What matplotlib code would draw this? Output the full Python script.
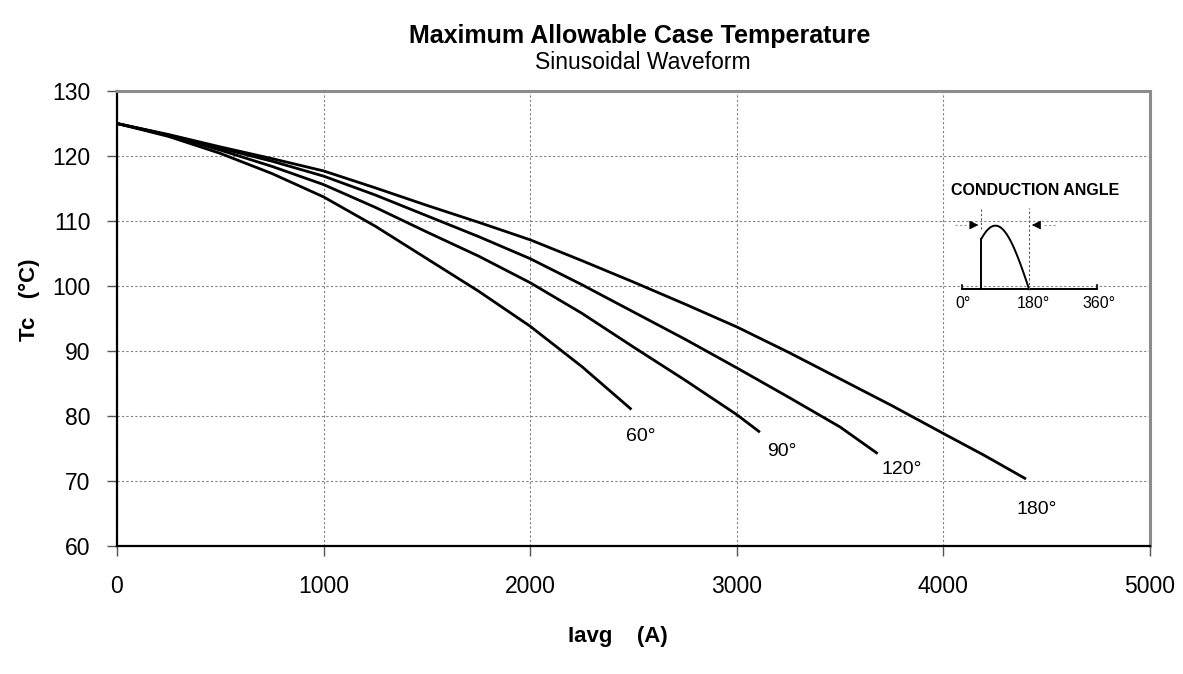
import matplotlib
matplotlib.use('Agg')
import matplotlib.pyplot as plt
import numpy as np

plt.rcParams['font.family'] = ['Liberation Sans', 'DejaVu Sans']

# curve data (Iavg in A, Tc in deg C)
i_180 = [0, 250, 500, 750, 1000, 1250, 1500, 1750, 2000, 2250, 2500, 2750, 3000,
         3250, 3500, 3750, 4000, 4200, 4400]
t_180 = [125, 123.3, 121.4, 119.6, 117.7, 115.1, 112.4, 109.8, 107.1, 103.9, 100.6, 97.2,
         93.7, 89.8, 85.7, 81.6, 77.3, 73.9, 70.3]
i_120 = [0, 250, 500, 750, 1000, 1250, 1500, 1750, 2000, 2250, 2500, 2750, 3000,
         3250, 3500, 3682]
t_120 = [125, 123.2, 121.2, 119.2, 116.9, 114.0, 110.8, 107.6, 104.2, 100.2, 96.0, 91.8,
         87.4, 82.9, 78.3, 74.2]
i_90 = [0, 250, 500, 750, 1000, 1250, 1500, 1750, 2000, 2250, 2500, 2750, 3000, 3112]
t_90 = [125, 123.2, 120.9, 118.4, 115.6, 112.1, 108.3, 104.6, 100.5, 95.8, 90.6, 85.5,
        80.2, 77.5]
i_60 = [0, 250, 500, 750, 1000, 1250, 1500, 1750, 2000, 2250, 2490]
t_60 = [125, 123.0, 120.4, 117.3, 113.7, 109.2, 104.2, 99.2, 93.8, 87.6, 81.0]

curve_labels = ['60°', '90°', '120°', '180°']
label_x = [2536, 3219, 3800, 4450]
label_y = [76.8, 74.5, 71.7, 65.6]

fig = plt.figure(figsize=(11.83, 6.74), dpi=100)
ax = fig.add_axes([0.0989, 0.19, 0.8732, 0.675])

for xs, ys in [(i_180, t_180), (i_120, t_120), (i_90, t_90), (i_60, t_60)]:
    ax.plot(xs, ys, color='black', lw=2.0, solid_capstyle='butt',
            solid_joinstyle='round', zorder=3)

for lab, lx, ly in zip(curve_labels, label_x, label_y):
    ax.text(lx, ly, lab, fontsize=14, ha='center', va='center')

ax.set_xlim(0, 5000)
ax.set_ylim(60, 130)
ax.set_xticks(np.arange(0, 5001, 1000))
ax.set_yticks(np.arange(60, 131, 10))
ax.grid(True, color='#808080', lw=0.8, linestyle=(0, (2, 2)))
ax.set_axisbelow(True)
ax.tick_params(axis='both', direction='out', length=7, width=1, labelsize=16.5, color='#555555')
ax.tick_params(axis='x', pad=14)
ax.tick_params(axis='y', pad=12)

for s in ['top', 'right']:
    ax.spines[s].set_color('#8c8c8c')
    ax.spines[s].set_linewidth(2.2)
for s in ['left', 'bottom']:
    ax.spines[s].set_color('black')
    ax.spines[s].set_linewidth(1.6)

fig.text(0.541, 0.947, 'Maximum Allowable Case Temperature', fontsize=18, fontweight='bold',
         ha='center', va='center')
fig.text(0.543, 0.908, 'Sinusoidal Waveform', fontsize=16.5, ha='center', va='center')
fig.text(0.522, 0.056, 'Iavg    (A)', fontsize=16, fontweight='bold', ha='center', va='center')
fig.text(0.025, 0.555, 'Tc   (°C)', fontsize=16, fontweight='bold', ha='center', va='center',
         rotation=90)

# conduction angle inset
ins = fig.add_axes([0.8129, 0.5708, 0.1141, 0.0944])
ins.set_xlim(0, 360)
ins.set_ylim(0, 1)
ins.axis('off')
theta = np.linspace(52, 180, 100)
ins.plot(theta, np.sin(np.radians(theta)), color='black', lw=1.4, clip_on=False)
ins.plot([52, 52], [0, np.sin(np.radians(52))], color='black', lw=1.4, clip_on=False)
ins.plot([0, 360], [0, 0], color='black', lw=1.4, clip_on=False)
ins.plot([0, 0], [0, 0.06], color='black', lw=1.2, clip_on=False)
ins.plot([360, 360], [0, 0.06], color='black', lw=1.2, clip_on=False)
ins.plot([52, 52], [0.95, 1.28], color='#555555', lw=0.8, ls=(0, (2, 2)), clip_on=False)
ins.plot([180, 180], [0, 1.28], color='#555555', lw=0.8, ls=(0, (2, 2)), clip_on=False)
ins.plot([-18, 14], [1.01, 1.01], color='#999999', lw=0.8, ls=(0, (2, 2)), clip_on=False)
ins.plot([220, 254], [1.01, 1.01], color='#999999', lw=0.8, ls=(0, (2, 2)), clip_on=False)
ins.annotate('', xy=(52, 1.01), xytext=(17, 1.01),
             arrowprops=dict(arrowstyle='-|>', color='black', lw=0.5, mutation_scale=14),
             annotation_clip=False)
ins.annotate('', xy=(180, 1.01), xytext=(217, 1.01),
             arrowprops=dict(arrowstyle='-|>', color='black', lw=0.5, mutation_scale=14),
             annotation_clip=False)
ins.text(195, 1.56, 'CONDUCTION ANGLE', fontsize=11.5, fontweight='bold', ha='center', va='center')
for lab, px in zip(['0°', '180°', '360°'], [4, 192, 365]):
    ins.text(px, -0.22, lab, fontsize=11.5, ha='center', va='center')

fig.savefig('out.png', dpi=100)
